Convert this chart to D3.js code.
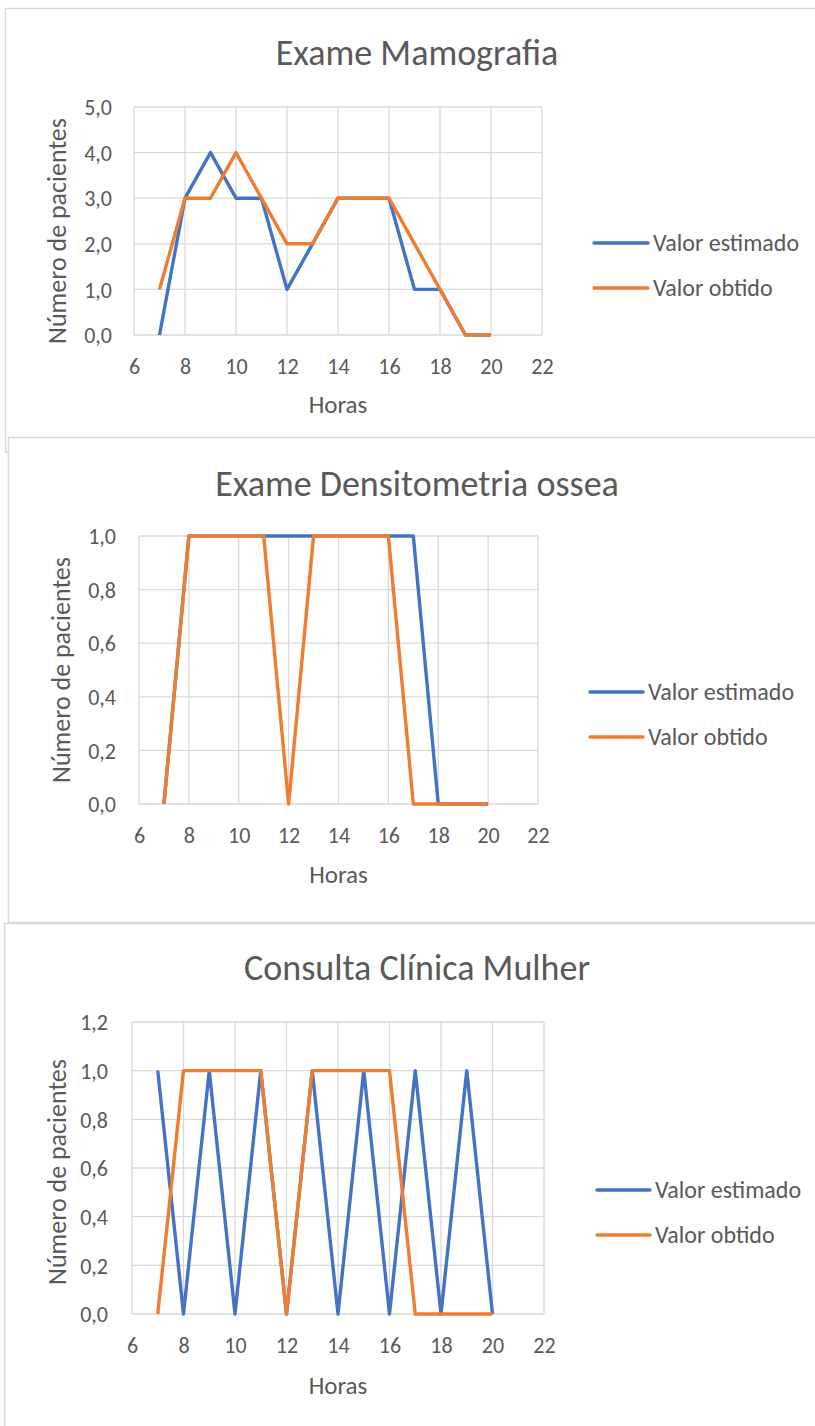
<!DOCTYPE html>
<html>
<head>
<meta charset="utf-8">
<script src="https://cdn.jsdelivr.net/npm/d3@7"></script>
<style>
  body { margin: 0; background: #fff; }
  svg { display: block; }
  text { font-family: Carlito, Lato, "Open Sans", sans-serif; fill: #595959; }
</style>
</head>
<body>
<svg id="chart" width="815" height="1426"></svg>
<script>
// Hours of the day (x values shared by every series)
const hours = [7, 8, 9, 10, 11, 12, 13, 14, 15, 16, 17, 18, 19, 20];
const xTicks = [6, 8, 10, 12, 14, 16, 18, 20, 22];
const seriesNames = ["Valor estimado", "Valor obtido"];
const seriesColors = ["#4472C4", "#ED7D31"];

// Exame Mamografia
const mamografiaEstimado = [0, 3, 4, 3, 3, 1, 2, 3, 3, 3, 1, 1, 0, 0];
const mamografiaObtido   = [1, 3, 3, 4, 3, 2, 2, 3, 3, 3, 2, 1, 0, 0];
const mamografiaYTicks   = [0, 1, 2, 3, 4, 5];

// Exame Densitometria ossea
const densitometriaEstimado = [0, 1, 1, 1, 1, 1, 1, 1, 1, 1, 1, 0, 0, 0];
const densitometriaObtido   = [0, 1, 1, 1, 1, 0, 1, 1, 1, 1, 0, 0, 0, 0];
const densitometriaYTicks   = [0, 0.2, 0.4, 0.6, 0.8, 1.0];

// Consulta Clínica Mulher
const consultaEstimado = [1, 0, 1, 0, 1, 0, 1, 0, 1, 0, 1, 0, 1, 0];
const consultaObtido   = [0, 1, 1, 1, 1, 0, 1, 1, 1, 1, 0, 0, 0, 0];
const consultaYTicks   = [0, 0.2, 0.4, 0.6, 0.8, 1.0, 1.2];

const titles = ["Exame Mamografia", "Exame Densitometria ossea", "Consulta Clínica Mulher"];
const xAxisTitle = "Horas";
const yAxisTitle = "Número de pacientes";

// Panel layout (frame, plot area, text anchors)
const panels = [
  { title: titles[0], series: [mamografiaEstimado, mamografiaObtido], yTicks: mamografiaYTicks,
    box: { x: 5, y: 8, h: 444 }, plot: { l: 134, r: 542, t: 107, b: 335 },
    titleY: 65, yTitle: { x: 66, y: 231 }, xTitleY: 413, xTickY: 374, yTickGap: 22,
    legend: { x1: 594, x2: 648, y: [243, 288], tx: 653 } },
  { title: titles[1], series: [densitometriaEstimado, densitometriaObtido], yTicks: densitometriaYTicks,
    box: { x: 8, y: 437, h: 485 }, plot: { l: 139, r: 538, t: 536, b: 804 },
    titleY: 496, yTitle: { x: 70, y: 670 }, xTitleY: 883, xTickY: 843, yTickGap: 23,
    legend: { x1: 590, x2: 643, y: [692, 737], tx: 648 } },
  { title: titles[2], series: [consultaEstimado, consultaObtido], yTicks: consultaYTicks,
    box: { x: 4, y: 923, h: 520 }, plot: { l: 132, r: 544, t: 1022, b: 1314 },
    titleY: 980, yTitle: { x: 66, y: 1172 }, xTitleY: 1394, xTickY: 1353, yTickGap: 24,
    legend: { x1: 597, x2: 650, y: [1190, 1235], tx: 655 } }
];

const svg = d3.select("#chart");
svg.append("rect").attr("width", 815).attr("height", 1426).attr("fill", "#fff");

const fmt = v => d3.format(".1f")(v).replace(".", ",");

panels.forEach(p => {
  const g = svg.append("g");

  // chart frame
  g.append("rect")
    .attr("x", p.box.x + 0.5).attr("y", p.box.y + 0.5)
    .attr("width", 900).attr("height", p.box.h)
    .attr("fill", "#fff").attr("stroke", "#d9d9d9").attr("stroke-width", 1.5);

  const x = d3.scaleLinear().domain([xTicks[0], xTicks[xTicks.length - 1]]).range([p.plot.l, p.plot.r]);
  const y = d3.scaleLinear().domain([p.yTicks[0], p.yTicks[p.yTicks.length - 1]]).range([p.plot.b, p.plot.t]);

  // gridlines
  g.append("g").selectAll("line").data(xTicks).join("line")
    .attr("x1", d => x(d)).attr("x2", d => x(d))
    .attr("y1", p.plot.t).attr("y2", p.plot.b)
    .attr("stroke", "#d9d9d9").attr("stroke-width", 1.3);
  g.append("g").selectAll("line").data(p.yTicks).join("line")
    .attr("x1", p.plot.l).attr("x2", p.plot.r)
    .attr("y1", d => y(d)).attr("y2", d => y(d))
    .attr("stroke", "#d9d9d9").attr("stroke-width", 1.3);

  // axes (labels only)
  const xAxis = g.append("g")
    .attr("transform", `translate(0,${p.xTickY})`)
    .call(d3.axisBottom(x).tickValues(xTicks).tickSize(0).tickPadding(0).tickFormat(d3.format("d")));
  xAxis.select(".domain").remove();
  xAxis.selectAll("text").attr("dy", 0).attr("y", 0)
    .style("font-size", "22px").style("font-family", null).attr("fill", "#595959");

  const yAxis = g.append("g")
    .attr("transform", `translate(${p.plot.l - p.yTickGap},0)`)
    .call(d3.axisLeft(y).tickValues(p.yTicks).tickSize(0).tickPadding(0).tickFormat(fmt));
  yAxis.select(".domain").remove();
  yAxis.selectAll("text").attr("dy", "0.35em")
    .style("font-size", "22px").style("font-family", null).attr("fill", "#595959");

  // series lines
  const line = d3.line().x((d, i) => x(hours[i])).y(d => y(d));
  p.series.forEach((s, k) => {
    g.append("path").datum(s)
      .attr("d", line)
      .attr("fill", "none")
      .attr("stroke", seriesColors[k])
      .attr("stroke-width", 3.4)
      .attr("stroke-linejoin", "round");
  });

  // titles
  g.append("text").attr("x", 417).attr("y", p.titleY).attr("text-anchor", "middle")
    .style("font-size", "36px").text(p.title);
  g.append("text").attr("x", (p.plot.l + p.plot.r) / 2).attr("y", p.xTitleY).attr("text-anchor", "middle")
    .style("font-size", "25px").text(xAxisTitle);
  g.append("text")
    .attr("transform", `translate(${p.yTitle.x},${p.yTitle.y}) rotate(-90)`)
    .attr("text-anchor", "middle")
    .style("font-size", "26px").text(yAxisTitle);

  // legend
  seriesNames.forEach((name, k) => {
    g.append("line")
      .attr("x1", p.legend.x1).attr("x2", p.legend.x2)
      .attr("y1", p.legend.y[k]).attr("y2", p.legend.y[k])
      .attr("stroke", seriesColors[k]).attr("stroke-width", 3.4).attr("stroke-linecap", "round");
    g.append("text").attr("x", p.legend.tx).attr("y", p.legend.y[k]).attr("dy", "0.35em")
      .style("font-size", "24px").text(name);
  });
});
</script>
</body>
</html>
